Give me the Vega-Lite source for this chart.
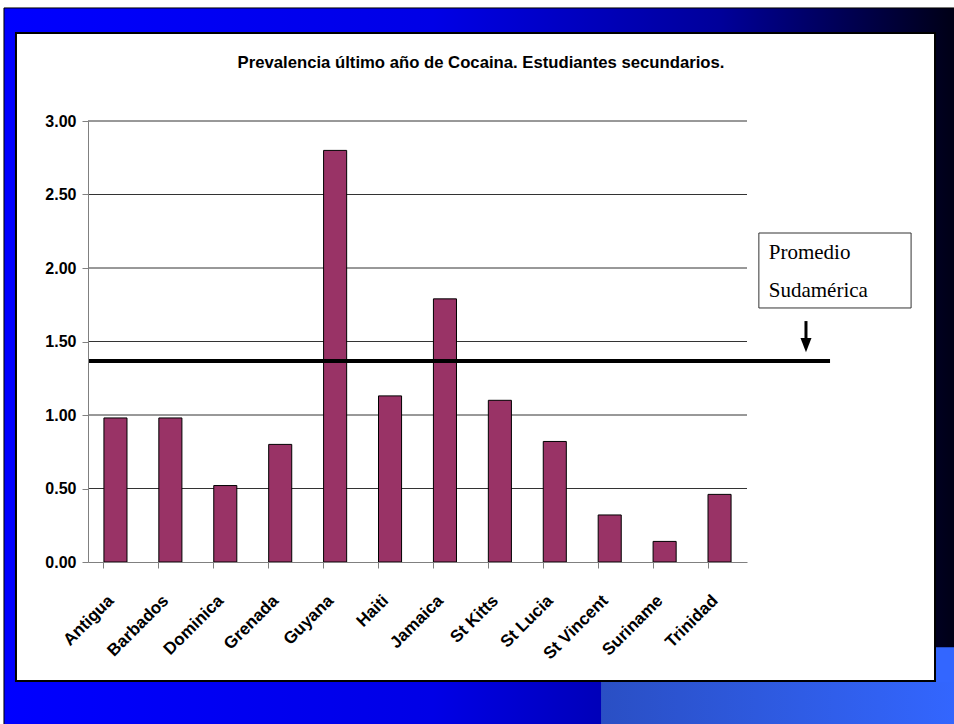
{
  "$schema": "https://vega.github.io/schema/vega-lite/v6.json",
  "width": 659,
  "height": 441,
  "autosize": {"type": "none"},
  "padding": {"left": 88, "top": 121, "right": 207, "bottom": 162},
  "background": "white",
  "config": {"view": {"stroke": null}, "font": "Liberation Sans"},
  "datasets": {
    "bars": [
      {"pais": "Antigua", "valor": 0.98},
      {"pais": "Barbados", "valor": 0.98},
      {"pais": "Dominica", "valor": 0.52},
      {"pais": "Grenada", "valor": 0.80},
      {"pais": "Guyana", "valor": 2.80},
      {"pais": "Haiti", "valor": 1.13},
      {"pais": "Jamaica", "valor": 1.79},
      {"pais": "St Kitts", "valor": 1.10},
      {"pais": "St Lucia", "valor": 0.82},
      {"pais": "St Vincent", "valor": 0.32},
      {"pais": "Suriname", "valor": 0.14},
      {"pais": "Trinidad", "valor": 0.46}
    ],
    "grid": [{"v": 0.5}, {"v": 1.0}, {"v": 1.5}, {"v": 2.0}, {"v": 2.5}, {"v": 3.0}],
    "one": [{"promedio": 1.367}]
  },
  "resolve": {"scale": {"x": "independent"}},
  "layer": [
    {
      "data": {"name": "one"},
      "mark": {"type": "rect", "clip": false, "fill": {"gradient": "linear", "x1": 0, "y1": 0, "x2": 1, "y2": 0, "stops": [{"offset": 0, "color": "#0000ff"}, {"offset": 0.45, "color": "#0000e6"}, {"offset": 0.75, "color": "#00009a"}, {"offset": 1, "color": "#000014"}]}, "stroke": "black", "strokeWidth": 1},
      "encoding": {
        "x": {"datum": -0.1275, "type": "quantitative", "scale": {"domain": [0, 1]}, "axis": null},
        "x2": {"datum": 1.32},
        "y": {"datum": 3.769, "type": "quantitative", "scale": {"domain": [0, 3], "nice": false}},
        "y2": {"datum": -1.11}
      }
    },
    {
      "data": {"name": "one"},
      "mark": {"type": "rect", "clip": false, "fill": {"gradient": "linear", "x1": 0, "y1": 0, "x2": 1, "y2": 0, "stops": [{"offset": 0, "color": "#2a4fc4"}, {"offset": 1, "color": "#3366ff"}]}},
      "encoding": {
        "x": {"datum": 0.7785, "type": "quantitative", "scale": {"domain": [0, 1]}, "axis": null},
        "x2": {"datum": 1.32},
        "y": {"datum": -0.8095, "type": "quantitative"},
        "y2": {"datum": -1.11}
      }
    },
    {
      "data": {"name": "one"},
      "mark": {"type": "rect", "clip": false, "fill": "#3366ff"},
      "encoding": {
        "x": {"datum": 1.27, "type": "quantitative", "scale": {"domain": [0, 1]}, "axis": null},
        "x2": {"datum": 1.32},
        "y": {"datum": -0.58, "type": "quantitative"},
        "y2": {"datum": -0.82}
      }
    },
    {
      "data": {"name": "one"},
      "mark": {"type": "rect", "clip": false, "fill": "white", "stroke": "black", "strokeWidth": 2},
      "encoding": {
        "x": {"datum": -0.1093, "type": "quantitative", "scale": {"domain": [0, 1]}, "axis": null},
        "x2": {"datum": 1.2853},
        "y": {"datum": 3.599, "type": "quantitative"},
        "y2": {"datum": -0.8095}
      }
    },
    {
      "data": {"name": "one"},
      "mark": {"type": "text", "clip": false, "align": "center", "baseline": "alphabetic", "font": "Liberation Sans", "fontSize": 16.7, "fontWeight": "bold", "color": "black"},
      "encoding": {
        "x": {"datum": 0.5964, "type": "quantitative", "scale": {"domain": [0, 1]}, "axis": null},
        "y": {"datum": 3.361, "type": "quantitative"},
        "text": {"value": "Prevalencia último año de Cocaina. Estudiantes secundarios."}
      }
    },
    {
      "data": {"name": "grid"},
      "mark": {"type": "rule", "color": "#333333", "strokeWidth": 1},
      "encoding": {
        "y": {"field": "v", "type": "quantitative"}
      }
    },
    {
      "data": {"name": "bars"},
      "mark": {"type": "bar", "fill": "#993366", "stroke": "black", "strokeWidth": 1},
      "encoding": {
        "x": {
          "field": "pais", "type": "nominal", "sort": null,
          "scale": {"paddingInner": 0.58, "paddingOuter": 0.29},
          "axis": {
            "title": null, "labelAngle": -45, "labelFontSize": 17, "labelFontWeight": "bold",
            "labelColor": "black", "domainColor": "#808080", "tickColor": "#808080",
            "bandPosition": 0, "tickSize": 6, "labelPadding": 24, "labelOffset": -10, "zindex": 1
          }
        },
        "y": {
          "field": "valor", "type": "quantitative",
          "scale": {"domain": [0, 3], "nice": false},
          "axis": {
            "title": null, "format": ".2f", "values": [0, 0.5, 1, 1.5, 2, 2.5, 3],
            "grid": false, "labelFontSize": 16, "labelFontWeight": "bold", "labelColor": "black",
            "domainColor": "#808080", "tickColor": "#808080", "tickSize": 6, "labelPadding": 6, "zindex": 1
          }
        }
      }
    },
    {
      "data": {"name": "one"},
      "mark": {"type": "rule", "clip": false, "color": "black", "strokeWidth": 4},
      "encoding": {
        "x": {"datum": 0, "type": "quantitative", "scale": {"domain": [0, 1]}, "axis": null},
        "x2": {"datum": 1.126},
        "y": {"field": "promedio", "type": "quantitative"}
      }
    },
    {
      "data": {"name": "one"},
      "mark": {"type": "rect", "clip": false, "fill": "white", "stroke": "#333333", "strokeWidth": 1},
      "encoding": {
        "x": {"datum": 1.018, "type": "quantitative", "scale": {"domain": [0, 1]}, "axis": null},
        "x2": {"datum": 1.249},
        "y": {"datum": 2.238, "type": "quantitative"},
        "y2": {"datum": 1.728}
      }
    },
    {
      "data": {"name": "one"},
      "mark": {"type": "text", "clip": false, "align": "left", "baseline": "alphabetic", "font": "Liberation Serif", "fontSize": 21, "lineHeight": 38, "color": "black"},
      "encoding": {
        "x": {"datum": 1.033, "type": "quantitative", "scale": {"domain": [0, 1]}, "axis": null},
        "y": {"datum": 2.061, "type": "quantitative"},
        "text": {"value": ["Promedio", "Sudamérica"]}
      }
    },
    {
      "data": {"name": "one"},
      "mark": {"type": "rule", "clip": false, "color": "black", "strokeWidth": 3},
      "encoding": {
        "x": {"datum": 1.0895, "type": "quantitative", "scale": {"domain": [0, 1]}, "axis": null},
        "y": {"datum": 1.639, "type": "quantitative"},
        "y2": {"datum": 1.51}
      }
    },
    {
      "data": {"name": "one"},
      "mark": {"type": "point", "clip": false, "shape": "M-1,-1.3L1,-1.3L0,1.3Z", "filled": true, "color": "black", "size": 121, "opacity": 1},
      "encoding": {
        "x": {"datum": 1.0895, "type": "quantitative", "scale": {"domain": [0, 1]}, "axis": null},
        "y": {"datum": 1.476, "type": "quantitative"}
      }
    }
  ]
}
